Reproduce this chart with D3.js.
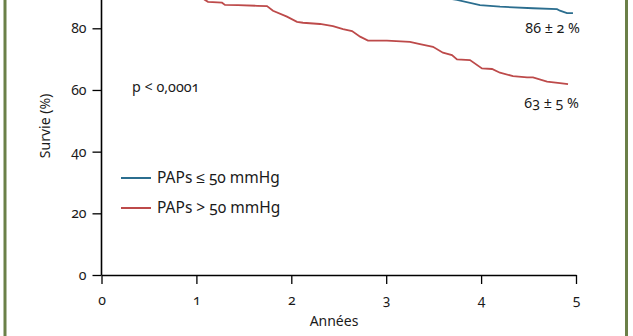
<!DOCTYPE html>
<html><head><meta charset="utf-8">
<script src="https://cdn.jsdelivr.net/npm/d3@7"></script>
<style>
html,body{margin:0;padding:0;background:#fff;}
svg text{font-family:"Noto Sans",sans-serif;font-variant-numeric:oldstyle-nums;font-feature-settings:"onum" 1;fill:#1a1a1a;}
</style></head>
<body>
<svg id="c" width="633" height="336"></svg>
<script>
// Years and survival (%)
const redYears = [0,0.2,0.4,0.6,0.8,1.0,1.091,1.122,1.27,1.301,1.438,1.639,1.744,1.807,1.954,2.06,2.123,2.302,2.439,2.545,2.64,2.725,2.808,3.008,3.25,3.356,3.493,3.598,3.693,3.746,3.883,4.009,4.115,4.199,4.336,4.484,4.547,4.695,4.831,4.916];
const redValues = [100,99,97.5,96,93.5,91,89.2,88.6,88.3,87.6,87.5,87.3,87.2,85.7,83.8,82.1,81.8,81.4,80.7,79.7,79.1,77.3,76.0,76.0,75.6,74.9,74.0,72.1,71.3,69.9,69.7,67.0,66.8,65.6,64.5,64.1,64.1,62.7,62.2,61.9];
const blueYears = [0,0.5,1,1.5,2,2.5,3,3.5,3.746,3.988,4.199,4.547,4.8,4.831,4.905,4.968];
const blueValues = [100,98.5,97.5,96.5,95,93.5,92,90.5,89.2,87.5,87.0,86.5,86.2,85.7,84.9,84.9];
const xTicks = [0,1,2,3,4,5];
const yTicks = [0,20,40,60,80];
const seriesNames = ["PAPs \u2264 50 mmHg","PAPs > 50 mmHg"];
const endLabels = ["86 \u00b1 2 %","63 \u00b1 5 %"];
const pText = "p < 0,0001";

const svg = d3.select("#c");
const blue = "#2b6e8f", red = "#bd4a4a", green = "#6b8048";

const x = d3.scaleLinear().domain([0,5]).range([101.5,576]);
const y = d3.scaleLinear().domain([0,80]).range([275,28.3]);

// frame borders
svg.append("line").attr("x1",5).attr("x2",5).attr("y1",0).attr("y2",336).attr("stroke",green).attr("stroke-width",3);
svg.append("line").attr("x1",626.5).attr("x2",626.5).attr("y1",0).attr("y2",336).attr("stroke",green).attr("stroke-width",3);

// axes
const xa = svg.append("g").attr("transform","translate(0,275)")
  .call(d3.axisBottom(x).tickValues(xTicks).tickFormat(d3.format("d")).tickSize(9).tickPadding(11).tickSizeOuter(0));
const ya = svg.append("g").attr("transform","translate(101.5,0)")
  .call(d3.axisLeft(y).tickValues(yTicks).tickFormat(d3.format("d")).tickSize(9).tickPadding(6).tickSizeOuter(0));
[xa,ya].forEach(a=>{
  a.select(".domain").attr("stroke","#000").attr("stroke-width",1.6);
  a.selectAll(".tick line").attr("stroke","#000").attr("stroke-width",1.3);
  a.selectAll(".tick text").attr("font-size",14).attr("fill","#1a1a1a");
});
// extend y axis to top
ya.select(".domain").attr("d","M0,"+y(0)+"V-40");

svg.append("text").attr("x",334).attr("y",326).attr("text-anchor","middle").attr("font-size",14).text("Ann\u00e9es");
svg.append("text").attr("transform","translate(50,126) rotate(-90)").attr("text-anchor","middle").attr("font-size",14).text("Survie (%)");

const line = d3.line().x(d=>x(d[0])).y(d=>y(d[1]));
svg.append("path").datum(d3.zip(blueYears,blueValues)).attr("d",line).attr("fill","none").attr("stroke",blue).attr("stroke-width",1.8);
svg.append("path").datum(d3.zip(redYears,redValues)).attr("d",line).attr("fill","none").attr("stroke",red).attr("stroke-width",1.8);

svg.append("text").attr("x",580).attr("y",33).attr("text-anchor","end").attr("font-size",14.3).text(endLabels[0]);
svg.append("text").attr("x",579).attr("y",108).attr("text-anchor","end").attr("font-size",14.3).text(endLabels[1]);
svg.append("text").attr("x",132).attr("y",92).attr("font-size",14.3).text(pText);

// legend
[blue,red].forEach((c,i)=>{
  const yy = 178 + i*30;
  svg.append("line").attr("x1",121).attr("x2",151).attr("y1",yy).attr("y2",yy).attr("stroke",c).attr("stroke-width",2);
  svg.append("text").attr("x",157).attr("y",yy+5).attr("font-size",15.5).text(seriesNames[i]);
});
</script>
</body></html>
